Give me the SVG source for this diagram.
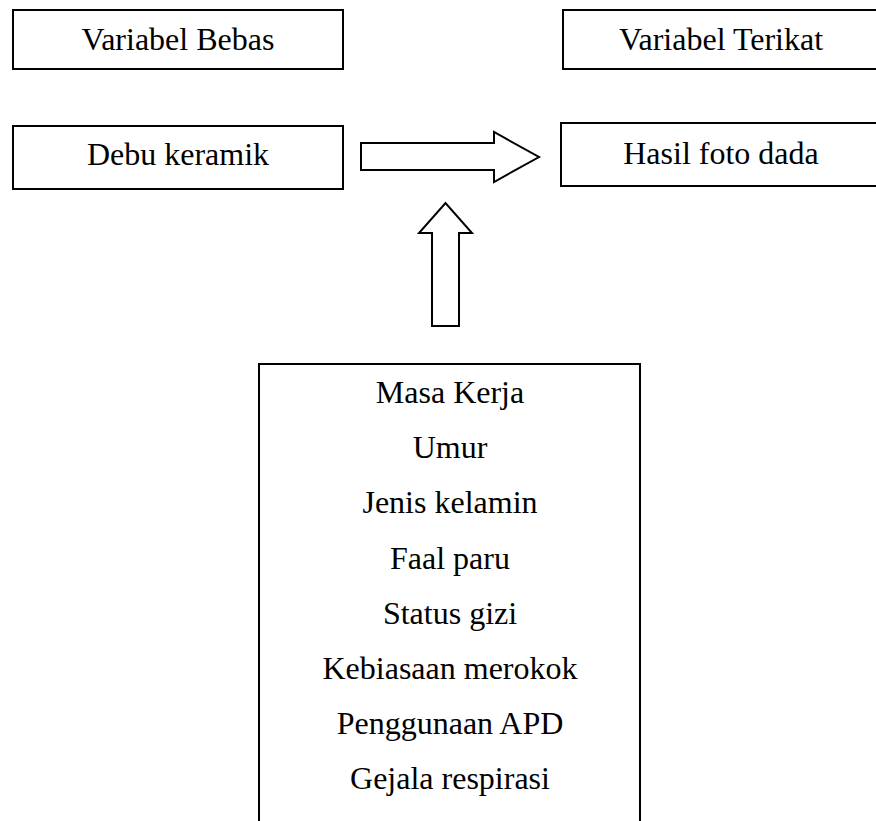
<svg xmlns="http://www.w3.org/2000/svg" width="876" height="821" viewBox="0 0 876 821">
<style>
.box{fill:#fff;stroke:#000;stroke-width:2}
.arr{fill:#fff;stroke:#000;stroke-width:2;stroke-linejoin:miter}
text{font-family:"Liberation Serif","Times New Roman",serif;font-size:32px;fill:#000;text-anchor:middle}
</style>
<rect width="876" height="821" fill="#fff"/>
<g id="var-bebas"><rect class="box" x="13" y="10" width="330" height="59"/><text x="178" y="50">Variabel Bebas</text></g>
<g id="var-terikat"><rect class="box" x="563" y="10" width="316" height="59"/><text x="721" y="50">Variabel Terikat</text></g>
<g id="debu"><rect class="box" x="13" y="126" width="330" height="63"/><text x="178" y="165">Debu keramik</text></g>
<g id="hasil"><rect class="box" x="561" y="123" width="318" height="63"/><text x="721" y="164">Hasil foto dada</text></g>
<g id="faktor"><rect class="box" x="259" y="364" width="381" height="470"/>
<text x="450" y="403">Masa Kerja</text>
<text x="450" y="458">Umur</text>
<text x="450" y="513">Jenis kelamin</text>
<text x="450" y="569">Faal paru</text>
<text x="450" y="624">Status gizi</text>
<text x="450" y="679">Kebiasaan merokok</text>
<text x="450" y="734">Penggunaan APD</text>
<text x="450" y="789">Gejala respirasi</text>
</g>
<g id="connectors">
<polygon class="arr" points="361,143 494,143 494,132 539,157 494,182 494,170 361,170"/>
<polygon class="arr" points="432,326 432,233 419,233 445.5,203 472,233 459,233 459,326"/>
</g>
</svg>
